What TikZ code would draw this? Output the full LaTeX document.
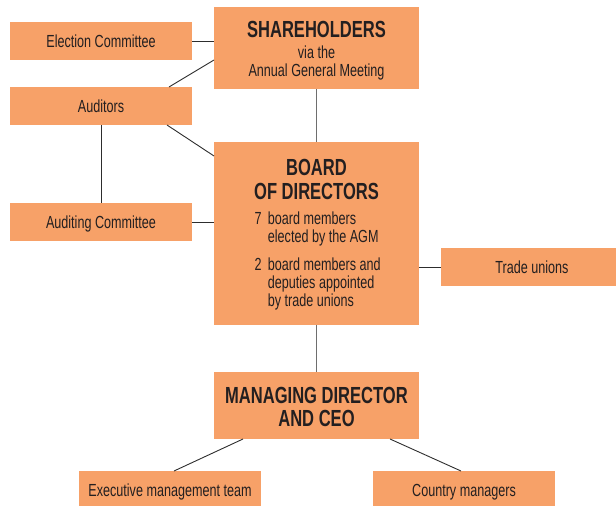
\documentclass[tikz,border=0pt]{standalone}
\usepackage{fontspec}
\setmainfont{Liberation Sans}[FakeStretch=0.72]
\newfontfamily\headfont{Liberation Sans}[FakeStretch=0.71]
\usetikzlibrary{calc}
\definecolor{boxorange}{RGB}{247,161,104}
\definecolor{textdark}{RGB}{35,31,32}
\definecolor{linedark}{RGB}{45,45,45}
\definecolor{linegray}{RGB}{110,110,110}
\tikzset{
  box/.style={fill=boxorange, draw=none, inner sep=0pt, outer sep=0pt, anchor=north west, text=textdark},
  smallbox/.style={box, minimum width=182pt, minimum height=38pt, font=\fontsize{17.5}{19}\selectfont, text height=13pt, text depth=0pt},
  bigbox/.style={box, minimum width=205pt},
  txt/.style={inner sep=0pt, anchor=base, text=textdark, font=\fontsize{17.5}{19}\selectfont},
  txtl/.style={txt, anchor=base west},
  head/.style={txt, font=\headfont\bfseries\fontsize{23.3}{24}\selectfont},
  conn/.style={draw=linedark, line width=0.9pt},
  vconn/.style={draw=linegray, line width=1.1pt}
}
\begin{document}
\begin{tikzpicture}[x=1pt,y=-1pt]
\useasboundingbox (0,0) rectangle (616,506);
% boxes
\node[smallbox] (el) at (10,22) {Election Committee};
\node[bigbox, minimum height=82pt] (sh) at (214,7) {};
\node[smallbox] (au) at (10,87) {Auditors};
\node[smallbox] (ac) at (10,203) {Auditing Committee};
\node[bigbox, minimum height=183pt] (bd) at (214,142) {};
\node[smallbox] (tu) at (441,248) {Trade unions};
\node[bigbox, minimum height=67pt] (md) at (214,372) {};
\node[smallbox] (ex) at (79,471) {Executive management team};
\node[smallbox] (cm) at (373,471) {Country managers};
% texts of the big boxes
\node[head] (sh1) at (316.5,37.7) {SHAREHOLDERS};
\node[txt] (sh2) at (316.5,58.7) {via the};
\node[txt] (sh3) at (316.5,76) {Annual General Meeting};
\node[head] (bd1) at (316.5,175.7) {BOARD};
\node[head] (bd2) at (316.5,199.3) {OF DIRECTORS};
\node[txtl] (bd3) at (254.3,224.3) {\makebox[13.4pt][l]{7}board members};
\node[txtl] (bd4) at (267.7,242.7) {elected by the AGM};
\node[txtl] (bd5) at (254.3,270) {\makebox[13.4pt][l]{2}board members and};
\node[txtl] (bd6) at (267.7,288.3) {deputies appointed};
\node[txtl] (bd7) at (267.7,306.7) {by trade unions};
\node[head] (md1) at (316.5,403.3) {MANAGING DIRECTOR};
\node[head] (md2) at (316.5,426.7) {AND CEO};
% connectors
\draw[conn] (el.east) -- (el.east -| sh.west);
\draw[conn] ([xshift=-23pt]au.north east) -- ([yshift=29pt]sh.south west);
\draw[conn] ([xshift=-25pt]au.south east) -- ([yshift=-14pt]bd.north west);
\draw[conn] (au.south) -- (ac.north);
\draw[conn] (ac.east) -- (ac.east -| bd.west);
\draw[vconn] (sh.south) -- (bd.north);
\draw[conn] (tu.west) -- (tu.west -| bd.east);
\draw[vconn] (bd.south) -- (md.north);
\draw[conn] ([xshift=29pt]md.south west) -- ([xshift=95pt]ex.north west);
\draw[conn] ([xshift=-29pt]md.south east) -- ([xshift=88pt]cm.north west);
\end{tikzpicture}
\end{document}
